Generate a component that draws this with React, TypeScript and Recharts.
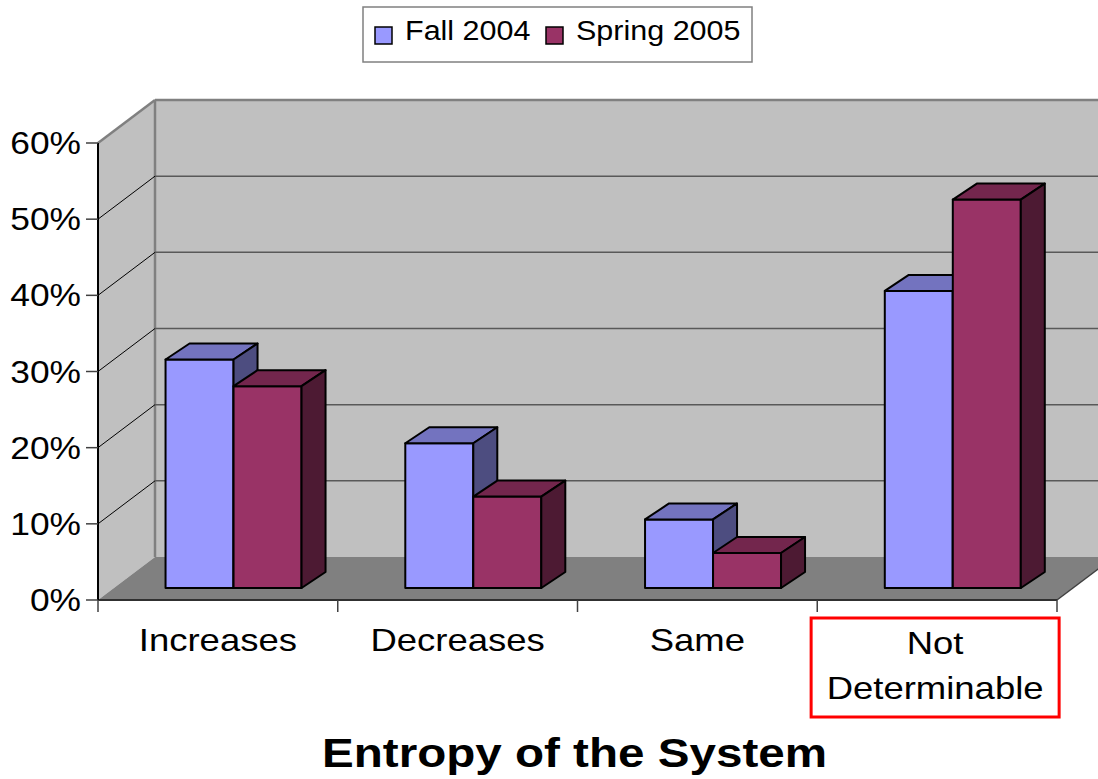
import { Bar, BarChart, CartesianGrid, Legend, XAxis, YAxis } from 'recharts';

// survey answers, share of students per answer
const categories = ['Increases', 'Decreases', 'Same', 'Not Determinable'];
const fall2004 = [0.3, 0.19, 0.09, 0.39];
const spring2005 = [0.265, 0.12, 0.046, 0.51];
const yTicks = [0, 0.1, 0.2, 0.3, 0.4, 0.5, 0.6];
const seriesNames = ['Fall 2004', 'Spring 2005'];
const highlightedCategory = 'Not Determinable';
const chartTitle = 'Entropy of the System';

const data = categories.map((name, i) => ({ name, fall: fall2004[i], spring: spring2005[i] }));

const W = 1098;
const H = 779;
const MARGIN = { top: 143, right: 41, bottom: 0, left: 0 };
const Y_AXIS_W = 98;
const X_AXIS_H = 179;
const PLOT_LEFT = MARGIN.left + Y_AXIS_W;
const PLOT_RIGHT = W - MARGIN.right;
const PLOT_TOP = MARGIN.top;
const PLOT_BOTTOM = H - MARGIN.bottom - X_AXIS_H;
const PLOT_W = PLOT_RIGHT - PLOT_LEFT;

// fake 3d: wall depth, bar plane offset, bar depth
const DEPTH = { dx: 57, dy: 43 };
const BAR_SHIFT = { dx: 16, dy: 12 };
const BAR_DEPTH = { dx: 24, dy: 16 };

const FONT = '"Liberation Sans", Arial, sans-serif';
const STRETCH = 1.14; // the original is a bit wide

const FALL = { front: '#9999ff', top: '#7373bf', side: '#4d4d80' };
const SPRING = { front: '#993366', top: '#73264d', side: '#4d1a33' };

function Walls() {
  const { dx, dy } = DEPTH;
  const L = PLOT_LEFT;
  const R = PLOT_RIGHT;
  const T = PLOT_TOP;
  const B = PLOT_BOTTOM;
  return (
    <g>
      <polygon points={`${L + dx},${T - dy} ${R + dx},${T - dy} ${R + dx},${B - dy} ${L + dx},${B - dy}`} fill="#c0c0c0" />
      <polygon points={`${L},${T} ${L + dx},${T - dy} ${L + dx},${B - dy} ${L},${B}`} fill="#c0c0c0" />
      <polygon points={`${L},${B} ${R},${B} ${R + dx},${B - dy} ${L + dx},${B - dy}`} fill="#808080" />
      <line x1={L + dx} y1={T - dy} x2={L + dx} y2={B - dy} stroke="#808080" strokeWidth={2.5} />
      <line x1={L} y1={T} x2={L + dx} y2={T - dy} stroke="#808080" strokeWidth={2.5} />
      <line x1={R} y1={B} x2={R + dx} y2={B - dy} stroke="#404040" strokeWidth={1.5} />
    </g>
  );
}

function WallLine(props: any) {
  const { x1, x2, y1, index } = props;
  const isFloor = Math.abs(y1 - PLOT_BOTTOM) < 0.5;
  const isTop = Math.abs(y1 - PLOT_TOP) < 0.5;
  return (
    <g>
      {index === 0 && <Walls />}
      {!isFloor && (
        <line
          x1={x1 + DEPTH.dx}
          y1={y1 - DEPTH.dy}
          x2={x2 + DEPTH.dx}
          y2={y1 - DEPTH.dy}
          stroke={isTop ? '#808080' : '#595959'}
          strokeWidth={isTop ? 2.5 : 1.5}
        />
      )}
      {!isFloor && !isTop && (
        <line x1={x1} y1={y1} x2={x1 + DEPTH.dx} y2={y1 - DEPTH.dy} stroke="#000" strokeWidth={1} />
      )}
    </g>
  );
}

function Box3D(props: any) {
  const { x, y, width, height, colors } = props;
  if (width == null || height == null) return null;
  const fx = x + BAR_SHIFT.dx;
  const fy = y - BAR_SHIFT.dy;
  const { dx, dy } = BAR_DEPTH;
  return (
    <g stroke="#000" strokeWidth={2} strokeLinejoin="round">
      <rect x={fx} y={fy} width={width} height={height} fill={colors.front} />
      <polygon points={`${fx},${fy} ${fx + dx},${fy - dy} ${fx + width + dx},${fy - dy} ${fx + width},${fy}`} fill={colors.top} />
      <polygon
        points={`${fx + width},${fy} ${fx + width + dx},${fy - dy} ${fx + width + dx},${fy + height - dy} ${fx + width},${fy + height}`}
        fill={colors.side}
      />
    </g>
  );
}

function YTick(props: any) {
  const { x, y, payload } = props;
  return (
    <text transform={`translate(${x},${y + 11}) scale(${STRETCH},1)`} textAnchor="end" fontSize={31} fontFamily={FONT} fill="#000">
      {`${Math.round(payload.value * 100)}%`}
    </text>
  );
}

function XTick(props: any) {
  const { x, y, payload, index } = props;
  const half = PLOT_W / categories.length / 2;
  const label = String(payload.value);
  const lines = label.split(' ');
  const multi = lines.length > 1;
  return (
    <g>
      <line x1={x - half} y1={y} x2={x - half} y2={y + 12} stroke="#404040" strokeWidth={1.5} />
      {index === categories.length - 1 && (
        <line x1={x + half} y1={y} x2={x + half} y2={y + 12} stroke="#404040" strokeWidth={1.5} />
      )}
      {label === highlightedCategory && (
        <rect x={x - 126} y={y + 18} width={248} height={99} fill="none" stroke="#ff0000" strokeWidth={3} />
      )}
      {lines.map((line, i) => (
        <text
          key={line}
          transform={`translate(${multi ? x - 2 : x},${y + (multi ? 54 + i * 45 : 51)}) scale(${STRETCH},1)`}
          textAnchor="middle"
          fontSize={32}
          fontFamily={FONT}
          fill="#000"
        >
          {line}
        </text>
      ))}
    </g>
  );
}

function Title(props: any) {
  const vb = props.viewBox;
  return (
    <text
      transform={`translate(${vb.x + vb.width / 2 - 3},${vb.y + 167}) scale(1.19,1)`}
      textAnchor="middle"
      fontSize={40}
      fontWeight="bold"
      fontFamily={FONT}
      fill="#000"
    >
      {chartTitle}
    </text>
  );
}

const LEGEND_ITEM_X = [13, 184];

function LegendBox({ payload }: any) {
  const items = payload ?? [];
  return (
    <svg width={392} height={57} style={{ display: 'block' }}>
      <rect x={1} y={1} width={389} height={55} fill="#fff" stroke="#808080" strokeWidth={1.5} />
      {items.map((item: any, i: number) => (
        <g key={item.value}>
          <rect x={LEGEND_ITEM_X[i]} y={21} width={17} height={17} fill={item.color} stroke="#000" strokeWidth={1.5} />
          <text transform={`translate(${LEGEND_ITEM_X[i] + 30},34) scale(1.13,1)`} fontSize={27} fontFamily={FONT} fill="#000">
            {item.value}
          </text>
        </g>
      ))}
    </svg>
  );
}

export default function App() {
  return (
    <div style={{ position: 'absolute', left: 0, top: 0, background: '#fff' }}>
      <BarChart width={W} height={H} data={data} margin={MARGIN} barCategoryGap="21.5%" barGap={0}>
        <CartesianGrid vertical={false} horizontal={(p: any) => <WallLine {...p} />} />
        <XAxis
          dataKey="name"
          height={X_AXIS_H}
          tickSize={0}
          tickMargin={0}
          tickLine={false}
          interval={0}
          axisLine={{ stroke: '#303030', strokeWidth: 2 }}
          tick={<XTick />}
          label={{ content: (p: any) => <Title {...p} /> }}
        />
        <YAxis
          type="number"
          domain={[0, 0.6]}
          ticks={yTicks}
          interval={0}
          width={Y_AXIS_W}
          tickSize={12}
          tickMargin={5}
          axisLine={{ stroke: '#000', strokeWidth: 2 }}
          tickLine={{ stroke: '#404040', strokeWidth: 1.5 }}
          tick={<YTick />}
        />
        <Legend
          layout="horizontal"
          verticalAlign="middle"
          align="center"
          wrapperStyle={{ top: 6, left: 362, width: 392, height: 57 }}
          content={<LegendBox />}
        />
        <Bar
          dataKey="fall"
          name={seriesNames[0]}
          fill={FALL.front}
          legendType="square"
          isAnimationActive={false}
          shape={(p: any) => <Box3D {...p} colors={FALL} />}
        />
        <Bar
          dataKey="spring"
          name={seriesNames[1]}
          fill={SPRING.front}
          legendType="square"
          isAnimationActive={false}
          shape={(p: any) => <Box3D {...p} colors={SPRING} />}
        />
      </BarChart>
    </div>
  );
}
